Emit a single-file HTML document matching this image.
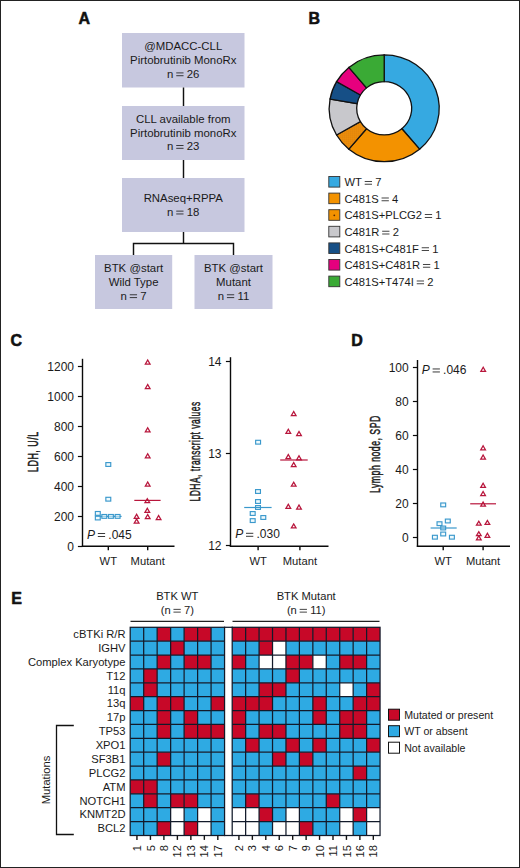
<!DOCTYPE html>
<html><head><meta charset="utf-8"><title>Figure</title>
<style>
html,body{margin:0;padding:0;background:#fff;overflow:hidden;width:520px;height:868px;}
svg{display:block;font-family:"Liberation Sans", sans-serif;}
</style></head><body>
<svg width="520" height="868" viewBox="0 0 520 868">
<rect x="0.5" y="0.5" width="519" height="867" fill="none" stroke="#222" stroke-width="1"/>
<text x="78.5" y="24.0" font-size="16" font-weight="bold" fill="#111" stroke="#111" stroke-width="0.55" stroke-linejoin="round">A</text>
<text x="308.4" y="24.4" font-size="16" font-weight="bold" fill="#111" stroke="#111" stroke-width="0.55" stroke-linejoin="round">B</text>
<text x="10.6" y="346.2" font-size="16" font-weight="bold" fill="#111" stroke="#111" stroke-width="0.55" stroke-linejoin="round">C</text>
<text x="351.3" y="346.4" font-size="16" font-weight="bold" fill="#111" stroke="#111" stroke-width="0.55" stroke-linejoin="round">D</text>
<text x="11.2" y="603.5" font-size="16" font-weight="bold" fill="#111" stroke="#111" stroke-width="0.55" stroke-linejoin="round">E</text>
<rect x="122" y="33" width="122.5" height="54.5" fill="#c7c8df"/>
<text x="183.25" y="50.3" font-size="11.4" text-anchor="middle" fill="#1a1a1a">@MDACC-CLL</text>
<text x="183.25" y="64" font-size="11.4" text-anchor="middle" fill="#1a1a1a">Pirtobrutinib MonoRx</text>
<text x="167.09" y="77.70" font-size="11.4" fill="#1a1a1a">n</text>
<rect x="176.23" y="72.50" width="7.3" height="0.82" fill="#1a1a1a"/>
<rect x="176.23" y="75.35" width="7.3" height="0.82" fill="#1a1a1a"/>
<text x="186.73" y="77.70" font-size="11.4" fill="#1a1a1a">26</text>
<rect x="122" y="106" width="122.5" height="54" fill="#c7c8df"/>
<text x="183.25" y="122.8" font-size="11.4" text-anchor="middle" fill="#1a1a1a">CLL available from</text>
<text x="183.25" y="136.5" font-size="11.4" text-anchor="middle" fill="#1a1a1a">Pirtobrutinib monoRx</text>
<text x="167.09" y="150.20" font-size="11.4" fill="#1a1a1a">n</text>
<rect x="176.23" y="145.00" width="7.3" height="0.82" fill="#1a1a1a"/>
<rect x="176.23" y="147.85" width="7.3" height="0.82" fill="#1a1a1a"/>
<text x="186.73" y="150.20" font-size="11.4" fill="#1a1a1a">23</text>
<rect x="122" y="178" width="122.5" height="54" fill="#c7c8df"/>
<text x="183.25" y="201.7" font-size="11.4" text-anchor="middle" fill="#1a1a1a">RNAseq+RPPA</text>
<text x="167.09" y="215.90" font-size="11.4" fill="#1a1a1a">n</text>
<rect x="176.23" y="210.70" width="7.3" height="0.82" fill="#1a1a1a"/>
<rect x="176.23" y="213.55" width="7.3" height="0.82" fill="#1a1a1a"/>
<text x="186.73" y="215.90" font-size="11.4" fill="#1a1a1a">18</text>
<rect x="95" y="255" width="77.19999999999999" height="54" fill="#c7c8df"/>
<text x="133.6" y="271.6" font-size="11.4" text-anchor="middle" fill="#1a1a1a">BTK @start</text>
<text x="133.6" y="285.6" font-size="11.4" text-anchor="middle" fill="#1a1a1a">Wild Type</text>
<text x="120.61" y="299.60" font-size="11.4" fill="#1a1a1a">n</text>
<rect x="129.75" y="294.40" width="7.3" height="0.82" fill="#1a1a1a"/>
<rect x="129.75" y="297.25" width="7.3" height="0.82" fill="#1a1a1a"/>
<text x="140.25" y="299.60" font-size="11.4" fill="#1a1a1a">7</text>
<rect x="194.5" y="255" width="78.0" height="54" fill="#c7c8df"/>
<text x="233.5" y="271.6" font-size="11.4" text-anchor="middle" fill="#1a1a1a">BTK @start</text>
<text x="233.5" y="285.6" font-size="11.4" text-anchor="middle" fill="#1a1a1a">Mutant</text>
<text x="217.76" y="299.60" font-size="11.4" fill="#1a1a1a">n</text>
<rect x="226.90" y="294.40" width="7.3" height="0.82" fill="#1a1a1a"/>
<rect x="226.90" y="297.25" width="7.3" height="0.82" fill="#1a1a1a"/>
<text x="237.40" y="299.60" font-size="11.4" fill="#1a1a1a">11</text>
<g stroke="#111" stroke-width="1.45" fill="none">
<line x1="183.5" y1="87.5" x2="183.5" y2="106"/>
<line x1="183.5" y1="160" x2="183.5" y2="178"/>
<line x1="183.5" y1="232" x2="183.5" y2="243.4"/>
<path d="M133.5 255 V243.4 H233.5 V255"/>
</g>
<defs><pattern id="dots" width="2" height="2" patternUnits="userSpaceOnUse"><rect width="2" height="2" fill="#f0900a"/><rect x="0.5" y="0.5" width="0.8" height="0.8" fill="#b86a10"/></pattern></defs>
<path transform="translate(0,3.249) scale(1,0.97)" d="M384.20 53.30 A55 55 0 0 1 419.55 150.43 L401.88 129.37 A27.5 27.5 0 0 0 384.20 80.80 Z" fill="#36a9e1" stroke="#111" stroke-width="1.3"/>
<path transform="translate(0,3.249) scale(1,0.97)" d="M419.55 150.43 A55 55 0 0 1 348.85 150.43 L366.52 129.37 A27.5 27.5 0 0 0 401.88 129.37 Z" fill="#f39200" stroke="#111" stroke-width="1.3"/>
<path transform="translate(0,3.249) scale(1,0.97)" d="M348.85 150.43 A55 55 0 0 1 336.57 135.80 L360.38 122.05 A27.5 27.5 0 0 0 366.52 129.37 Z" fill="url(#dots)" stroke="#111" stroke-width="1.3"/>
<path transform="translate(0,3.249) scale(1,0.97)" d="M336.57 135.80 A55 55 0 0 1 330.04 98.75 L357.12 103.52 A27.5 27.5 0 0 0 360.38 122.05 Z" fill="#c8c8cc" stroke="#111" stroke-width="1.3"/>
<path transform="translate(0,3.249) scale(1,0.97)" d="M330.04 98.75 A55 55 0 0 1 336.57 80.80 L360.38 94.55 A27.5 27.5 0 0 0 357.12 103.52 Z" fill="#164f86" stroke="#111" stroke-width="1.3"/>
<path transform="translate(0,3.249) scale(1,0.97)" d="M336.57 80.80 A55 55 0 0 1 348.85 66.17 L366.52 87.23 A27.5 27.5 0 0 0 360.38 94.55 Z" fill="#e6007e" stroke="#111" stroke-width="1.3"/>
<path transform="translate(0,3.249) scale(1,0.97)" d="M348.85 66.17 A55 55 0 0 1 384.20 53.30 L384.20 80.80 A27.5 27.5 0 0 0 366.52 87.23 Z" fill="#3aaa35" stroke="#111" stroke-width="1.3"/>
<rect x="328.8" y="176.50" width="11" height="10.6" fill="#36a9e1" stroke="#333" stroke-width="0.9"/>
<text x="344.50" y="186.10" font-size="11.2" fill="#1a1a1a">WT</text>
<rect x="364.71" y="180.99" width="7.3" height="0.81" fill="#1a1a1a"/>
<rect x="364.71" y="183.79" width="7.3" height="0.81" fill="#1a1a1a"/>
<text x="375.21" y="186.10" font-size="11.2" fill="#1a1a1a">7</text>
<rect x="328.8" y="193.10" width="11" height="10.6" fill="#f39200" stroke="#333" stroke-width="0.9"/>
<text x="344.50" y="202.70" font-size="11.2" fill="#1a1a1a">C481S</text>
<rect x="381.55" y="197.59" width="7.3" height="0.81" fill="#1a1a1a"/>
<rect x="381.55" y="200.39" width="7.3" height="0.81" fill="#1a1a1a"/>
<text x="392.05" y="202.70" font-size="11.2" fill="#1a1a1a">4</text>
<rect x="328.8" y="209.70" width="11" height="10.6" fill="#f39200" stroke="#333" stroke-width="0.9"/>
<circle cx="334.3" cy="215.30" r="0.9" fill="#5a2a00"/>
<text x="344.50" y="219.30" font-size="11.2" fill="#1a1a1a">C481S+PLCG2</text>
<rect x="424.81" y="214.19" width="7.3" height="0.81" fill="#1a1a1a"/>
<rect x="424.81" y="216.99" width="7.3" height="0.81" fill="#1a1a1a"/>
<text x="435.31" y="219.30" font-size="11.2" fill="#1a1a1a">1</text>
<rect x="328.8" y="226.30" width="11" height="10.6" fill="#c8c8cc" stroke="#333" stroke-width="0.9"/>
<text x="344.50" y="235.90" font-size="11.2" fill="#1a1a1a">C481R</text>
<rect x="382.16" y="230.79" width="7.3" height="0.81" fill="#1a1a1a"/>
<rect x="382.16" y="233.59" width="7.3" height="0.81" fill="#1a1a1a"/>
<text x="392.66" y="235.90" font-size="11.2" fill="#1a1a1a">2</text>
<rect x="328.8" y="242.90" width="11" height="10.6" fill="#164f86" stroke="#333" stroke-width="0.9"/>
<text x="344.50" y="252.50" font-size="11.2" fill="#1a1a1a">C481S+C481F</text>
<rect x="421.70" y="247.39" width="7.3" height="0.81" fill="#1a1a1a"/>
<rect x="421.70" y="250.19" width="7.3" height="0.81" fill="#1a1a1a"/>
<text x="432.20" y="252.50" font-size="11.2" fill="#1a1a1a">1</text>
<rect x="328.8" y="259.50" width="11" height="10.6" fill="#e6007e" stroke="#333" stroke-width="0.9"/>
<text x="344.50" y="269.10" font-size="11.2" fill="#1a1a1a">C481S+C481R</text>
<rect x="422.95" y="263.99" width="7.3" height="0.81" fill="#1a1a1a"/>
<rect x="422.95" y="266.79" width="7.3" height="0.81" fill="#1a1a1a"/>
<text x="433.45" y="269.10" font-size="11.2" fill="#1a1a1a">1</text>
<rect x="328.8" y="276.10" width="11" height="10.6" fill="#3aaa35" stroke="#333" stroke-width="0.9"/>
<text x="344.50" y="285.70" font-size="11.2" fill="#1a1a1a">C481S+T474I</text>
<rect x="416.73" y="280.59" width="7.3" height="0.81" fill="#1a1a1a"/>
<rect x="416.73" y="283.39" width="7.3" height="0.81" fill="#1a1a1a"/>
<text x="427.23" y="285.70" font-size="11.2" fill="#1a1a1a">2</text>
<g stroke="#0a0a0a" stroke-width="1.4" fill="none">
<line x1="82.5" y1="358.8" x2="82.5" y2="546.9000000000001"/>
<line x1="81.8" y1="546.2" x2="174.5" y2="546.2"/>
<line x1="77.9" y1="546.5" x2="82.5" y2="546.5" stroke-width="1.2"/>
<line x1="77.9" y1="516.5" x2="82.5" y2="516.5" stroke-width="1.2"/>
<line x1="77.9" y1="486.5" x2="82.5" y2="486.5" stroke-width="1.2"/>
<line x1="77.9" y1="456.5" x2="82.5" y2="456.5" stroke-width="1.2"/>
<line x1="77.9" y1="426.5" x2="82.5" y2="426.5" stroke-width="1.2"/>
<line x1="77.9" y1="396.5" x2="82.5" y2="396.5" stroke-width="1.2"/>
<line x1="77.9" y1="366.5" x2="82.5" y2="366.5" stroke-width="1.2"/>
<line x1="108.3" y1="546.2" x2="108.3" y2="550.2"/>
<line x1="147.7" y1="546.2" x2="147.7" y2="550.2"/>
</g>
<text x="74" y="550.80" font-size="12" text-anchor="end" fill="#1a1a1a">0</text>
<text x="74" y="520.80" font-size="12" text-anchor="end" fill="#1a1a1a">200</text>
<text x="74" y="490.80" font-size="12" text-anchor="end" fill="#1a1a1a">400</text>
<text x="74" y="460.80" font-size="12" text-anchor="end" fill="#1a1a1a">600</text>
<text x="74" y="430.80" font-size="12" text-anchor="end" fill="#1a1a1a">800</text>
<text x="74" y="400.80" font-size="12" text-anchor="end" fill="#1a1a1a">1000</text>
<text x="74" y="370.80" font-size="12" text-anchor="end" fill="#1a1a1a">1200</text>
<text x="108.3" y="564.6" font-size="11.2" text-anchor="middle" fill="#1a1a1a">WT</text>
<text x="147.7" y="564.6" font-size="11.2" text-anchor="middle" fill="#1a1a1a">Mutant</text>
<text x="87.00" y="538.50" font-size="12.0" font-style="italic" fill="#1a1a1a">P</text>
<rect x="97.80" y="533.03" width="7.3" height="0.86" fill="#1a1a1a"/>
<rect x="97.80" y="536.03" width="7.3" height="0.86" fill="#1a1a1a"/>
<text x="108.30" y="538.50" font-size="12.0" fill="#1a1a1a">.045</text>
<text transform="translate(38.4,451.9) rotate(-90) scale(0.6332,1)" font-size="14" font-weight="normal" letter-spacing="0.8" fill="#1a1a1a" stroke="#1a1a1a" stroke-width="0.5" x="-31.59">LDH, U/L</text>
<line x1="95" y1="516.4" x2="121.6" y2="516.4" stroke="#3a98cc" stroke-width="1.2"/>
<rect x="105.85" y="462.60" width="4.9" height="3.8" fill="#e4f6fc" fill-opacity="0.6" stroke="#3a98cc" stroke-width="1.15"/>
<rect x="105.85" y="497.30" width="4.9" height="3.8" fill="#e4f6fc" fill-opacity="0.6" stroke="#3a98cc" stroke-width="1.15"/>
<rect x="95.35" y="511.50" width="4.9" height="3.8" fill="#e4f6fc" fill-opacity="0.6" stroke="#3a98cc" stroke-width="1.15"/>
<rect x="95.35" y="516.10" width="4.9" height="3.8" fill="#e4f6fc" fill-opacity="0.6" stroke="#3a98cc" stroke-width="1.15"/>
<rect x="101.85" y="514.50" width="4.9" height="3.8" fill="#e4f6fc" fill-opacity="0.6" stroke="#3a98cc" stroke-width="1.15"/>
<rect x="108.45" y="514.50" width="4.9" height="3.8" fill="#e4f6fc" fill-opacity="0.6" stroke="#3a98cc" stroke-width="1.15"/>
<rect x="115.15" y="514.50" width="4.9" height="3.8" fill="#e4f6fc" fill-opacity="0.6" stroke="#3a98cc" stroke-width="1.15"/>
<line x1="134.3" y1="500.4" x2="160.6" y2="500.4" stroke="#b8163c" stroke-width="1.2"/>
<path d="M147.70 358.85 L151.15 364.75 L144.25 364.75 Z M147.70 361.33 L146.43 363.50 L148.97 363.50 Z" fill="#b8163c" fill-rule="evenodd"/>
<path d="M147.70 383.35 L151.15 389.25 L144.25 389.25 Z M147.70 385.83 L146.43 388.00 L148.97 388.00 Z" fill="#b8163c" fill-rule="evenodd"/>
<path d="M147.70 426.55 L151.15 432.45 L144.25 432.45 Z M147.70 429.03 L146.43 431.20 L148.97 431.20 Z" fill="#b8163c" fill-rule="evenodd"/>
<path d="M147.70 452.55 L151.15 458.45 L144.25 458.45 Z M147.70 455.03 L146.43 457.20 L148.97 457.20 Z" fill="#b8163c" fill-rule="evenodd"/>
<path d="M147.70 480.75 L151.15 486.65 L144.25 486.65 Z M147.70 483.23 L146.43 485.40 L148.97 485.40 Z" fill="#b8163c" fill-rule="evenodd"/>
<path d="M147.30 497.45 L150.75 503.35 L143.85 503.35 Z M147.30 499.93 L146.03 502.10 L148.57 502.10 Z" fill="#b8163c" fill-rule="evenodd"/>
<path d="M147.30 507.05 L150.75 512.95 L143.85 512.95 Z M147.30 509.53 L146.03 511.70 L148.57 511.70 Z" fill="#b8163c" fill-rule="evenodd"/>
<path d="M136.60 513.05 L140.05 518.95 L133.15 518.95 Z M136.60 515.53 L135.33 517.70 L137.87 517.70 Z" fill="#b8163c" fill-rule="evenodd"/>
<path d="M136.60 517.85 L140.05 523.75 L133.15 523.75 Z M136.60 520.33 L135.33 522.50 L137.87 522.50 Z" fill="#b8163c" fill-rule="evenodd"/>
<path d="M147.70 513.35 L151.15 519.25 L144.25 519.25 Z M147.70 515.83 L146.43 518.00 L148.97 518.00 Z" fill="#b8163c" fill-rule="evenodd"/>
<path d="M158.60 514.25 L162.05 520.15 L155.15 520.15 Z M158.60 516.73 L157.33 518.90 L159.87 518.90 Z" fill="#b8163c" fill-rule="evenodd"/>
<g stroke="#0a0a0a" stroke-width="1.4" fill="none">
<line x1="230.5" y1="357.2" x2="230.5" y2="546.9000000000001"/>
<line x1="229.8" y1="546.2" x2="328.5" y2="546.2"/>
<line x1="225.9" y1="361.5" x2="230.5" y2="361.5" stroke-width="1.2"/>
<line x1="225.9" y1="453.5" x2="230.5" y2="453.5" stroke-width="1.2"/>
<line x1="225.9" y1="545.5" x2="230.5" y2="545.5" stroke-width="1.2"/>
<line x1="258.1" y1="546.2" x2="258.1" y2="550.2"/>
<line x1="299.9" y1="546.2" x2="299.9" y2="550.2"/>
</g>
<text x="221.5" y="365.80" font-size="12" text-anchor="end" fill="#1a1a1a">14</text>
<text x="221.5" y="457.80" font-size="12" text-anchor="end" fill="#1a1a1a">13</text>
<text x="221.5" y="549.80" font-size="12" text-anchor="end" fill="#1a1a1a">12</text>
<text x="258.1" y="565.2" font-size="11.2" text-anchor="middle" fill="#1a1a1a">WT</text>
<text x="299.9" y="565.2" font-size="11.2" text-anchor="middle" fill="#1a1a1a">Mutant</text>
<text x="235.20" y="538.30" font-size="12.0" font-style="italic" fill="#1a1a1a">P</text>
<rect x="246.00" y="532.83" width="7.3" height="0.86" fill="#1a1a1a"/>
<rect x="246.00" y="535.83" width="7.3" height="0.86" fill="#1a1a1a"/>
<text x="256.50" y="538.30" font-size="12.0" fill="#1a1a1a">.030</text>
<text transform="translate(199.9,451.6) rotate(-90) scale(0.6055,1)" font-size="14" font-weight="normal" letter-spacing="0.8" fill="#1a1a1a" stroke="#1a1a1a" stroke-width="0.5" x="-82.33">LDHA, transcript values</text>
<rect x="255.65" y="440.30" width="4.9" height="3.8" fill="#e4f6fc" fill-opacity="0.6" stroke="#3a98cc" stroke-width="1.15"/>
<rect x="255.55" y="489.60" width="4.9" height="3.8" fill="#e4f6fc" fill-opacity="0.6" stroke="#3a98cc" stroke-width="1.15"/>
<rect x="255.55" y="499.60" width="4.9" height="3.8" fill="#e4f6fc" fill-opacity="0.6" stroke="#3a98cc" stroke-width="1.15"/>
<rect x="255.55" y="505.60" width="4.9" height="3.8" fill="#e4f6fc" fill-opacity="0.6" stroke="#3a98cc" stroke-width="1.15"/>
<rect x="250.25" y="511.60" width="4.9" height="3.8" fill="#e4f6fc" fill-opacity="0.6" stroke="#3a98cc" stroke-width="1.15"/>
<rect x="260.85" y="515.60" width="4.9" height="3.8" fill="#e4f6fc" fill-opacity="0.6" stroke="#3a98cc" stroke-width="1.15"/>
<rect x="250.25" y="518.70" width="4.9" height="3.8" fill="#e4f6fc" fill-opacity="0.6" stroke="#3a98cc" stroke-width="1.15"/>
<line x1="244.2" y1="507.5" x2="271.6" y2="507.5" stroke="#3a98cc" stroke-width="1.2"/>
<path d="M293.70 410.25 L297.15 416.15 L290.25 416.15 Z M293.70 412.73 L292.43 414.90 L294.97 414.90 Z" fill="#b8163c" fill-rule="evenodd"/>
<path d="M288.30 428.05 L291.75 433.95 L284.85 433.95 Z M288.30 430.53 L287.03 432.70 L289.57 432.70 Z" fill="#b8163c" fill-rule="evenodd"/>
<path d="M299.00 430.25 L302.45 436.15 L295.55 436.15 Z M299.00 432.73 L297.73 434.90 L300.27 434.90 Z" fill="#b8163c" fill-rule="evenodd"/>
<path d="M288.30 453.25 L291.75 459.15 L284.85 459.15 Z M288.30 455.73 L287.03 457.90 L289.57 457.90 Z" fill="#b8163c" fill-rule="evenodd"/>
<path d="M299.00 454.55 L302.45 460.45 L295.55 460.45 Z M299.00 457.03 L297.73 459.20 L300.27 459.20 Z" fill="#b8163c" fill-rule="evenodd"/>
<path d="M293.70 461.25 L297.15 467.15 L290.25 467.15 Z M293.70 463.73 L292.43 465.90 L294.97 465.90 Z" fill="#b8163c" fill-rule="evenodd"/>
<path d="M293.70 480.95 L297.15 486.85 L290.25 486.85 Z M293.70 483.43 L292.43 485.60 L294.97 485.60 Z" fill="#b8163c" fill-rule="evenodd"/>
<path d="M288.30 503.05 L291.75 508.95 L284.85 508.95 Z M288.30 505.53 L287.03 507.70 L289.57 507.70 Z" fill="#b8163c" fill-rule="evenodd"/>
<path d="M299.00 503.85 L302.45 509.75 L295.55 509.75 Z M299.00 506.33 L297.73 508.50 L300.27 508.50 Z" fill="#b8163c" fill-rule="evenodd"/>
<path d="M293.70 522.65 L297.15 528.55 L290.25 528.55 Z M293.70 525.13 L292.43 527.30 L294.97 527.30 Z" fill="#b8163c" fill-rule="evenodd"/>
<line x1="280.2" y1="460" x2="307.7" y2="460" stroke="#b8163c" stroke-width="1.2"/>
<g stroke="#0a0a0a" stroke-width="1.4" fill="none">
<line x1="417.5" y1="360" x2="417.5" y2="546.9000000000001"/>
<line x1="416.8" y1="546.2" x2="510" y2="546.2"/>
<line x1="412.9" y1="537.5" x2="417.5" y2="537.5" stroke-width="1.2"/>
<line x1="412.9" y1="503.5" x2="417.5" y2="503.5" stroke-width="1.2"/>
<line x1="412.9" y1="469.5" x2="417.5" y2="469.5" stroke-width="1.2"/>
<line x1="412.9" y1="435.5" x2="417.5" y2="435.5" stroke-width="1.2"/>
<line x1="412.9" y1="401.5" x2="417.5" y2="401.5" stroke-width="1.2"/>
<line x1="412.9" y1="367.5" x2="417.5" y2="367.5" stroke-width="1.2"/>
<line x1="443.2" y1="546.2" x2="443.2" y2="550.2"/>
<line x1="483.1" y1="546.2" x2="483.1" y2="550.2"/>
</g>
<text x="408.7" y="541.80" font-size="12" text-anchor="end" fill="#1a1a1a">0</text>
<text x="408.7" y="507.80" font-size="12" text-anchor="end" fill="#1a1a1a">20</text>
<text x="408.7" y="473.80" font-size="12" text-anchor="end" fill="#1a1a1a">40</text>
<text x="408.7" y="439.80" font-size="12" text-anchor="end" fill="#1a1a1a">60</text>
<text x="408.7" y="405.80" font-size="12" text-anchor="end" fill="#1a1a1a">80</text>
<text x="408.7" y="371.80" font-size="12" text-anchor="end" fill="#1a1a1a">100</text>
<text x="443.2" y="565.3" font-size="11.2" text-anchor="middle" fill="#1a1a1a">WT</text>
<text x="483.1" y="565.3" font-size="11.2" text-anchor="middle" fill="#1a1a1a">Mutant</text>
<text x="421.80" y="374.00" font-size="12.0" font-style="italic" fill="#1a1a1a">P</text>
<rect x="432.60" y="368.53" width="7.3" height="0.86" fill="#1a1a1a"/>
<rect x="432.60" y="371.53" width="7.3" height="0.86" fill="#1a1a1a"/>
<text x="443.10" y="374.00" font-size="12.0" fill="#1a1a1a">.046</text>
<text transform="translate(379.5,454.4) rotate(-90) scale(0.6227,1)" font-size="14" font-weight="normal" letter-spacing="0.8" fill="#1a1a1a" stroke="#1a1a1a" stroke-width="0.5" x="-62.15">Lymph node, SPD</text>
<rect x="440.75" y="503.00" width="4.9" height="3.8" fill="#e4f6fc" fill-opacity="0.6" stroke="#3a98cc" stroke-width="1.15"/>
<rect x="437.05" y="521.80" width="4.9" height="3.8" fill="#e4f6fc" fill-opacity="0.6" stroke="#3a98cc" stroke-width="1.15"/>
<rect x="445.35" y="519.10" width="4.9" height="3.8" fill="#e4f6fc" fill-opacity="0.6" stroke="#3a98cc" stroke-width="1.15"/>
<rect x="440.75" y="526.10" width="4.9" height="3.8" fill="#e4f6fc" fill-opacity="0.6" stroke="#3a98cc" stroke-width="1.15"/>
<rect x="440.75" y="532.10" width="4.9" height="3.8" fill="#e4f6fc" fill-opacity="0.6" stroke="#3a98cc" stroke-width="1.15"/>
<rect x="432.45" y="535.30" width="4.9" height="3.8" fill="#e4f6fc" fill-opacity="0.6" stroke="#3a98cc" stroke-width="1.15"/>
<rect x="449.45" y="535.30" width="4.9" height="3.8" fill="#e4f6fc" fill-opacity="0.6" stroke="#3a98cc" stroke-width="1.15"/>
<line x1="430.6" y1="528" x2="456.7" y2="528" stroke="#3a98cc" stroke-width="1.2"/>
<path d="M483.20 366.05 L486.65 371.95 L479.75 371.95 Z M483.20 368.53 L481.93 370.70 L484.47 370.70 Z" fill="#b8163c" fill-rule="evenodd"/>
<path d="M483.10 444.55 L486.55 450.45 L479.65 450.45 Z M483.10 447.03 L481.83 449.20 L484.37 449.20 Z" fill="#b8163c" fill-rule="evenodd"/>
<path d="M483.10 453.75 L486.55 459.65 L479.65 459.65 Z M483.10 456.23 L481.83 458.40 L484.37 458.40 Z" fill="#b8163c" fill-rule="evenodd"/>
<path d="M483.10 482.05 L486.55 487.95 L479.65 487.95 Z M483.10 484.53 L481.83 486.70 L484.37 486.70 Z" fill="#b8163c" fill-rule="evenodd"/>
<path d="M483.10 490.35 L486.55 496.25 L479.65 496.25 Z M483.10 492.83 L481.83 495.00 L484.37 495.00 Z" fill="#b8163c" fill-rule="evenodd"/>
<path d="M483.10 500.85 L486.55 506.75 L479.65 506.75 Z M483.10 503.33 L481.83 505.50 L484.37 505.50 Z" fill="#b8163c" fill-rule="evenodd"/>
<path d="M478.80 519.95 L482.25 525.85 L475.35 525.85 Z M478.80 522.43 L477.53 524.60 L480.07 524.60 Z" fill="#b8163c" fill-rule="evenodd"/>
<path d="M487.40 519.15 L490.85 525.05 L483.95 525.05 Z M487.40 521.63 L486.13 523.80 L488.67 523.80 Z" fill="#b8163c" fill-rule="evenodd"/>
<path d="M478.80 530.45 L482.25 536.35 L475.35 536.35 Z M478.80 532.93 L477.53 535.10 L480.07 535.10 Z" fill="#b8163c" fill-rule="evenodd"/>
<path d="M487.40 532.05 L490.85 537.95 L483.95 537.95 Z M487.40 534.53 L486.13 536.70 L488.67 536.70 Z" fill="#b8163c" fill-rule="evenodd"/>
<path d="M478.80 534.55 L482.25 540.45 L475.35 540.45 Z M478.80 537.03 L477.53 539.20 L480.07 539.20 Z" fill="#b8163c" fill-rule="evenodd"/>
<line x1="470.2" y1="503.8" x2="496" y2="503.8" stroke="#b8163c" stroke-width="1.2"/>
<rect x="130.20" y="627.30" width="13.53" height="13.93" fill="#2eaae3"/>
<rect x="143.68" y="627.30" width="13.53" height="13.93" fill="#2eaae3"/>
<rect x="157.16" y="627.30" width="13.53" height="13.93" fill="#c70828"/>
<rect x="170.64" y="627.30" width="13.53" height="13.93" fill="#2eaae3"/>
<rect x="184.12" y="627.30" width="13.53" height="13.93" fill="#c70828"/>
<rect x="197.60" y="627.30" width="13.53" height="13.93" fill="#c70828"/>
<rect x="211.08" y="627.30" width="13.53" height="13.93" fill="#2eaae3"/>
<rect x="130.20" y="641.18" width="13.53" height="13.93" fill="#2eaae3"/>
<rect x="143.68" y="641.18" width="13.53" height="13.93" fill="#2eaae3"/>
<rect x="157.16" y="641.18" width="13.53" height="13.93" fill="#2eaae3"/>
<rect x="170.64" y="641.18" width="13.53" height="13.93" fill="#c70828"/>
<rect x="184.12" y="641.18" width="13.53" height="13.93" fill="#2eaae3"/>
<rect x="197.60" y="641.18" width="13.53" height="13.93" fill="#2eaae3"/>
<rect x="211.08" y="641.18" width="13.53" height="13.93" fill="#2eaae3"/>
<rect x="130.20" y="655.06" width="13.53" height="13.93" fill="#2eaae3"/>
<rect x="143.68" y="655.06" width="13.53" height="13.93" fill="#2eaae3"/>
<rect x="157.16" y="655.06" width="13.53" height="13.93" fill="#c70828"/>
<rect x="170.64" y="655.06" width="13.53" height="13.93" fill="#2eaae3"/>
<rect x="184.12" y="655.06" width="13.53" height="13.93" fill="#c70828"/>
<rect x="197.60" y="655.06" width="13.53" height="13.93" fill="#c70828"/>
<rect x="211.08" y="655.06" width="13.53" height="13.93" fill="#2eaae3"/>
<rect x="130.20" y="668.94" width="13.53" height="13.93" fill="#2eaae3"/>
<rect x="143.68" y="668.94" width="13.53" height="13.93" fill="#c70828"/>
<rect x="157.16" y="668.94" width="13.53" height="13.93" fill="#2eaae3"/>
<rect x="170.64" y="668.94" width="13.53" height="13.93" fill="#2eaae3"/>
<rect x="184.12" y="668.94" width="13.53" height="13.93" fill="#2eaae3"/>
<rect x="197.60" y="668.94" width="13.53" height="13.93" fill="#2eaae3"/>
<rect x="211.08" y="668.94" width="13.53" height="13.93" fill="#2eaae3"/>
<rect x="130.20" y="682.82" width="13.53" height="13.93" fill="#2eaae3"/>
<rect x="143.68" y="682.82" width="13.53" height="13.93" fill="#c70828"/>
<rect x="157.16" y="682.82" width="13.53" height="13.93" fill="#2eaae3"/>
<rect x="170.64" y="682.82" width="13.53" height="13.93" fill="#2eaae3"/>
<rect x="184.12" y="682.82" width="13.53" height="13.93" fill="#2eaae3"/>
<rect x="197.60" y="682.82" width="13.53" height="13.93" fill="#2eaae3"/>
<rect x="211.08" y="682.82" width="13.53" height="13.93" fill="#2eaae3"/>
<rect x="130.20" y="696.70" width="13.53" height="13.93" fill="#c70828"/>
<rect x="143.68" y="696.70" width="13.53" height="13.93" fill="#2eaae3"/>
<rect x="157.16" y="696.70" width="13.53" height="13.93" fill="#c70828"/>
<rect x="170.64" y="696.70" width="13.53" height="13.93" fill="#c70828"/>
<rect x="184.12" y="696.70" width="13.53" height="13.93" fill="#2eaae3"/>
<rect x="197.60" y="696.70" width="13.53" height="13.93" fill="#2eaae3"/>
<rect x="211.08" y="696.70" width="13.53" height="13.93" fill="#c70828"/>
<rect x="130.20" y="710.58" width="13.53" height="13.93" fill="#2eaae3"/>
<rect x="143.68" y="710.58" width="13.53" height="13.93" fill="#2eaae3"/>
<rect x="157.16" y="710.58" width="13.53" height="13.93" fill="#c70828"/>
<rect x="170.64" y="710.58" width="13.53" height="13.93" fill="#2eaae3"/>
<rect x="184.12" y="710.58" width="13.53" height="13.93" fill="#c70828"/>
<rect x="197.60" y="710.58" width="13.53" height="13.93" fill="#2eaae3"/>
<rect x="211.08" y="710.58" width="13.53" height="13.93" fill="#2eaae3"/>
<rect x="130.20" y="724.46" width="13.53" height="13.93" fill="#2eaae3"/>
<rect x="143.68" y="724.46" width="13.53" height="13.93" fill="#2eaae3"/>
<rect x="157.16" y="724.46" width="13.53" height="13.93" fill="#c70828"/>
<rect x="170.64" y="724.46" width="13.53" height="13.93" fill="#2eaae3"/>
<rect x="184.12" y="724.46" width="13.53" height="13.93" fill="#c70828"/>
<rect x="197.60" y="724.46" width="13.53" height="13.93" fill="#c70828"/>
<rect x="211.08" y="724.46" width="13.53" height="13.93" fill="#c70828"/>
<rect x="130.20" y="738.34" width="13.53" height="13.93" fill="#2eaae3"/>
<rect x="143.68" y="738.34" width="13.53" height="13.93" fill="#2eaae3"/>
<rect x="157.16" y="738.34" width="13.53" height="13.93" fill="#2eaae3"/>
<rect x="170.64" y="738.34" width="13.53" height="13.93" fill="#2eaae3"/>
<rect x="184.12" y="738.34" width="13.53" height="13.93" fill="#2eaae3"/>
<rect x="197.60" y="738.34" width="13.53" height="13.93" fill="#2eaae3"/>
<rect x="211.08" y="738.34" width="13.53" height="13.93" fill="#2eaae3"/>
<rect x="130.20" y="752.22" width="13.53" height="13.93" fill="#2eaae3"/>
<rect x="143.68" y="752.22" width="13.53" height="13.93" fill="#2eaae3"/>
<rect x="157.16" y="752.22" width="13.53" height="13.93" fill="#c70828"/>
<rect x="170.64" y="752.22" width="13.53" height="13.93" fill="#2eaae3"/>
<rect x="184.12" y="752.22" width="13.53" height="13.93" fill="#2eaae3"/>
<rect x="197.60" y="752.22" width="13.53" height="13.93" fill="#2eaae3"/>
<rect x="211.08" y="752.22" width="13.53" height="13.93" fill="#2eaae3"/>
<rect x="130.20" y="766.10" width="13.53" height="13.93" fill="#2eaae3"/>
<rect x="143.68" y="766.10" width="13.53" height="13.93" fill="#2eaae3"/>
<rect x="157.16" y="766.10" width="13.53" height="13.93" fill="#2eaae3"/>
<rect x="170.64" y="766.10" width="13.53" height="13.93" fill="#2eaae3"/>
<rect x="184.12" y="766.10" width="13.53" height="13.93" fill="#2eaae3"/>
<rect x="197.60" y="766.10" width="13.53" height="13.93" fill="#2eaae3"/>
<rect x="211.08" y="766.10" width="13.53" height="13.93" fill="#2eaae3"/>
<rect x="130.20" y="779.98" width="13.53" height="13.93" fill="#c70828"/>
<rect x="143.68" y="779.98" width="13.53" height="13.93" fill="#c70828"/>
<rect x="157.16" y="779.98" width="13.53" height="13.93" fill="#2eaae3"/>
<rect x="170.64" y="779.98" width="13.53" height="13.93" fill="#2eaae3"/>
<rect x="184.12" y="779.98" width="13.53" height="13.93" fill="#2eaae3"/>
<rect x="197.60" y="779.98" width="13.53" height="13.93" fill="#2eaae3"/>
<rect x="211.08" y="779.98" width="13.53" height="13.93" fill="#2eaae3"/>
<rect x="130.20" y="793.86" width="13.53" height="13.93" fill="#2eaae3"/>
<rect x="143.68" y="793.86" width="13.53" height="13.93" fill="#c70828"/>
<rect x="157.16" y="793.86" width="13.53" height="13.93" fill="#2eaae3"/>
<rect x="170.64" y="793.86" width="13.53" height="13.93" fill="#c70828"/>
<rect x="184.12" y="793.86" width="13.53" height="13.93" fill="#c70828"/>
<rect x="197.60" y="793.86" width="13.53" height="13.93" fill="#2eaae3"/>
<rect x="211.08" y="793.86" width="13.53" height="13.93" fill="#2eaae3"/>
<rect x="130.20" y="807.74" width="13.53" height="13.93" fill="#2eaae3"/>
<rect x="143.68" y="807.74" width="13.53" height="13.93" fill="#2eaae3"/>
<rect x="157.16" y="807.74" width="13.53" height="13.93" fill="#2eaae3"/>
<rect x="170.64" y="807.74" width="13.53" height="13.93" fill="#ffffff"/>
<rect x="184.12" y="807.74" width="13.53" height="13.93" fill="#2eaae3"/>
<rect x="197.60" y="807.74" width="13.53" height="13.93" fill="#ffffff"/>
<rect x="211.08" y="807.74" width="13.53" height="13.93" fill="#2eaae3"/>
<rect x="130.20" y="821.62" width="13.53" height="13.93" fill="#2eaae3"/>
<rect x="143.68" y="821.62" width="13.53" height="13.93" fill="#2eaae3"/>
<rect x="157.16" y="821.62" width="13.53" height="13.93" fill="#c70828"/>
<rect x="170.64" y="821.62" width="13.53" height="13.93" fill="#ffffff"/>
<rect x="184.12" y="821.62" width="13.53" height="13.93" fill="#c70828"/>
<rect x="197.60" y="821.62" width="13.53" height="13.93" fill="#ffffff"/>
<rect x="211.08" y="821.62" width="13.53" height="13.93" fill="#2eaae3"/>
<g stroke="#121a2a" stroke-width="1.25">
<line x1="143.68" y1="627.30" x2="143.68" y2="835.50"/>
<line x1="157.16" y1="627.30" x2="157.16" y2="835.50"/>
<line x1="170.64" y1="627.30" x2="170.64" y2="835.50"/>
<line x1="184.12" y1="627.30" x2="184.12" y2="835.50"/>
<line x1="197.60" y1="627.30" x2="197.60" y2="835.50"/>
<line x1="211.08" y1="627.30" x2="211.08" y2="835.50"/>
<line x1="130.20" y1="641.18" x2="224.56" y2="641.18"/>
<line x1="130.20" y1="655.06" x2="224.56" y2="655.06"/>
<line x1="130.20" y1="668.94" x2="224.56" y2="668.94"/>
<line x1="130.20" y1="682.82" x2="224.56" y2="682.82"/>
<line x1="130.20" y1="696.70" x2="224.56" y2="696.70"/>
<line x1="130.20" y1="710.58" x2="224.56" y2="710.58"/>
<line x1="130.20" y1="724.46" x2="224.56" y2="724.46"/>
<line x1="130.20" y1="738.34" x2="224.56" y2="738.34"/>
<line x1="130.20" y1="752.22" x2="224.56" y2="752.22"/>
<line x1="130.20" y1="766.10" x2="224.56" y2="766.10"/>
<line x1="130.20" y1="779.98" x2="224.56" y2="779.98"/>
<line x1="130.20" y1="793.86" x2="224.56" y2="793.86"/>
<line x1="130.20" y1="807.74" x2="224.56" y2="807.74"/>
<line x1="130.20" y1="821.62" x2="224.56" y2="821.62"/>
<rect x="130.20" y="627.30" width="94.36" height="208.20" fill="none"/>
</g>
<g stroke="#111" stroke-width="1.4">
<line x1="136.94" y1="835.50" x2="136.94" y2="839.90"/>
<line x1="150.42" y1="835.50" x2="150.42" y2="839.90"/>
<line x1="163.90" y1="835.50" x2="163.90" y2="839.90"/>
<line x1="177.38" y1="835.50" x2="177.38" y2="839.90"/>
<line x1="190.86" y1="835.50" x2="190.86" y2="839.90"/>
<line x1="204.34" y1="835.50" x2="204.34" y2="839.90"/>
<line x1="217.82" y1="835.50" x2="217.82" y2="839.90"/>
</g>
<text transform="translate(141.04,845.2) rotate(-90)" font-size="11" text-anchor="end" fill="#1a1a1a">1</text>
<text transform="translate(154.52,845.2) rotate(-90)" font-size="11" text-anchor="end" fill="#1a1a1a">5</text>
<text transform="translate(168.00,845.2) rotate(-90)" font-size="11" text-anchor="end" fill="#1a1a1a">8</text>
<text transform="translate(181.48,845.2) rotate(-90)" font-size="11" text-anchor="end" fill="#1a1a1a">12</text>
<text transform="translate(194.96,845.2) rotate(-90)" font-size="11" text-anchor="end" fill="#1a1a1a">13</text>
<text transform="translate(208.44,845.2) rotate(-90)" font-size="11" text-anchor="end" fill="#1a1a1a">14</text>
<text transform="translate(221.92,845.2) rotate(-90)" font-size="11" text-anchor="end" fill="#1a1a1a">17</text>
<rect x="232.20" y="627.30" width="13.49" height="13.93" fill="#c70828"/>
<rect x="245.64" y="627.30" width="13.49" height="13.93" fill="#c70828"/>
<rect x="259.08" y="627.30" width="13.49" height="13.93" fill="#c70828"/>
<rect x="272.52" y="627.30" width="13.49" height="13.93" fill="#c70828"/>
<rect x="285.96" y="627.30" width="13.49" height="13.93" fill="#c70828"/>
<rect x="299.40" y="627.30" width="13.49" height="13.93" fill="#c70828"/>
<rect x="312.84" y="627.30" width="13.49" height="13.93" fill="#c70828"/>
<rect x="326.28" y="627.30" width="13.49" height="13.93" fill="#c70828"/>
<rect x="339.72" y="627.30" width="13.49" height="13.93" fill="#c70828"/>
<rect x="353.16" y="627.30" width="13.49" height="13.93" fill="#c70828"/>
<rect x="366.60" y="627.30" width="13.49" height="13.93" fill="#c70828"/>
<rect x="232.20" y="641.18" width="13.49" height="13.93" fill="#2eaae3"/>
<rect x="245.64" y="641.18" width="13.49" height="13.93" fill="#2eaae3"/>
<rect x="259.08" y="641.18" width="13.49" height="13.93" fill="#c70828"/>
<rect x="272.52" y="641.18" width="13.49" height="13.93" fill="#ffffff"/>
<rect x="285.96" y="641.18" width="13.49" height="13.93" fill="#2eaae3"/>
<rect x="299.40" y="641.18" width="13.49" height="13.93" fill="#2eaae3"/>
<rect x="312.84" y="641.18" width="13.49" height="13.93" fill="#2eaae3"/>
<rect x="326.28" y="641.18" width="13.49" height="13.93" fill="#2eaae3"/>
<rect x="339.72" y="641.18" width="13.49" height="13.93" fill="#2eaae3"/>
<rect x="353.16" y="641.18" width="13.49" height="13.93" fill="#2eaae3"/>
<rect x="366.60" y="641.18" width="13.49" height="13.93" fill="#2eaae3"/>
<rect x="232.20" y="655.06" width="13.49" height="13.93" fill="#c70828"/>
<rect x="245.64" y="655.06" width="13.49" height="13.93" fill="#2eaae3"/>
<rect x="259.08" y="655.06" width="13.49" height="13.93" fill="#ffffff"/>
<rect x="272.52" y="655.06" width="13.49" height="13.93" fill="#ffffff"/>
<rect x="285.96" y="655.06" width="13.49" height="13.93" fill="#c70828"/>
<rect x="299.40" y="655.06" width="13.49" height="13.93" fill="#c70828"/>
<rect x="312.84" y="655.06" width="13.49" height="13.93" fill="#ffffff"/>
<rect x="326.28" y="655.06" width="13.49" height="13.93" fill="#2eaae3"/>
<rect x="339.72" y="655.06" width="13.49" height="13.93" fill="#c70828"/>
<rect x="353.16" y="655.06" width="13.49" height="13.93" fill="#c70828"/>
<rect x="366.60" y="655.06" width="13.49" height="13.93" fill="#2eaae3"/>
<rect x="232.20" y="668.94" width="13.49" height="13.93" fill="#2eaae3"/>
<rect x="245.64" y="668.94" width="13.49" height="13.93" fill="#2eaae3"/>
<rect x="259.08" y="668.94" width="13.49" height="13.93" fill="#2eaae3"/>
<rect x="272.52" y="668.94" width="13.49" height="13.93" fill="#2eaae3"/>
<rect x="285.96" y="668.94" width="13.49" height="13.93" fill="#c70828"/>
<rect x="299.40" y="668.94" width="13.49" height="13.93" fill="#2eaae3"/>
<rect x="312.84" y="668.94" width="13.49" height="13.93" fill="#2eaae3"/>
<rect x="326.28" y="668.94" width="13.49" height="13.93" fill="#2eaae3"/>
<rect x="339.72" y="668.94" width="13.49" height="13.93" fill="#2eaae3"/>
<rect x="353.16" y="668.94" width="13.49" height="13.93" fill="#2eaae3"/>
<rect x="366.60" y="668.94" width="13.49" height="13.93" fill="#2eaae3"/>
<rect x="232.20" y="682.82" width="13.49" height="13.93" fill="#2eaae3"/>
<rect x="245.64" y="682.82" width="13.49" height="13.93" fill="#2eaae3"/>
<rect x="259.08" y="682.82" width="13.49" height="13.93" fill="#c70828"/>
<rect x="272.52" y="682.82" width="13.49" height="13.93" fill="#c70828"/>
<rect x="285.96" y="682.82" width="13.49" height="13.93" fill="#2eaae3"/>
<rect x="299.40" y="682.82" width="13.49" height="13.93" fill="#2eaae3"/>
<rect x="312.84" y="682.82" width="13.49" height="13.93" fill="#2eaae3"/>
<rect x="326.28" y="682.82" width="13.49" height="13.93" fill="#2eaae3"/>
<rect x="339.72" y="682.82" width="13.49" height="13.93" fill="#ffffff"/>
<rect x="353.16" y="682.82" width="13.49" height="13.93" fill="#2eaae3"/>
<rect x="366.60" y="682.82" width="13.49" height="13.93" fill="#c70828"/>
<rect x="232.20" y="696.70" width="13.49" height="13.93" fill="#c70828"/>
<rect x="245.64" y="696.70" width="13.49" height="13.93" fill="#c70828"/>
<rect x="259.08" y="696.70" width="13.49" height="13.93" fill="#c70828"/>
<rect x="272.52" y="696.70" width="13.49" height="13.93" fill="#2eaae3"/>
<rect x="285.96" y="696.70" width="13.49" height="13.93" fill="#2eaae3"/>
<rect x="299.40" y="696.70" width="13.49" height="13.93" fill="#2eaae3"/>
<rect x="312.84" y="696.70" width="13.49" height="13.93" fill="#c70828"/>
<rect x="326.28" y="696.70" width="13.49" height="13.93" fill="#2eaae3"/>
<rect x="339.72" y="696.70" width="13.49" height="13.93" fill="#2eaae3"/>
<rect x="353.16" y="696.70" width="13.49" height="13.93" fill="#c70828"/>
<rect x="366.60" y="696.70" width="13.49" height="13.93" fill="#c70828"/>
<rect x="232.20" y="710.58" width="13.49" height="13.93" fill="#c70828"/>
<rect x="245.64" y="710.58" width="13.49" height="13.93" fill="#2eaae3"/>
<rect x="259.08" y="710.58" width="13.49" height="13.93" fill="#2eaae3"/>
<rect x="272.52" y="710.58" width="13.49" height="13.93" fill="#2eaae3"/>
<rect x="285.96" y="710.58" width="13.49" height="13.93" fill="#2eaae3"/>
<rect x="299.40" y="710.58" width="13.49" height="13.93" fill="#2eaae3"/>
<rect x="312.84" y="710.58" width="13.49" height="13.93" fill="#c70828"/>
<rect x="326.28" y="710.58" width="13.49" height="13.93" fill="#2eaae3"/>
<rect x="339.72" y="710.58" width="13.49" height="13.93" fill="#c70828"/>
<rect x="353.16" y="710.58" width="13.49" height="13.93" fill="#c70828"/>
<rect x="366.60" y="710.58" width="13.49" height="13.93" fill="#2eaae3"/>
<rect x="232.20" y="724.46" width="13.49" height="13.93" fill="#c70828"/>
<rect x="245.64" y="724.46" width="13.49" height="13.93" fill="#2eaae3"/>
<rect x="259.08" y="724.46" width="13.49" height="13.93" fill="#c70828"/>
<rect x="272.52" y="724.46" width="13.49" height="13.93" fill="#c70828"/>
<rect x="285.96" y="724.46" width="13.49" height="13.93" fill="#2eaae3"/>
<rect x="299.40" y="724.46" width="13.49" height="13.93" fill="#2eaae3"/>
<rect x="312.84" y="724.46" width="13.49" height="13.93" fill="#2eaae3"/>
<rect x="326.28" y="724.46" width="13.49" height="13.93" fill="#2eaae3"/>
<rect x="339.72" y="724.46" width="13.49" height="13.93" fill="#c70828"/>
<rect x="353.16" y="724.46" width="13.49" height="13.93" fill="#c70828"/>
<rect x="366.60" y="724.46" width="13.49" height="13.93" fill="#2eaae3"/>
<rect x="232.20" y="738.34" width="13.49" height="13.93" fill="#2eaae3"/>
<rect x="245.64" y="738.34" width="13.49" height="13.93" fill="#c70828"/>
<rect x="259.08" y="738.34" width="13.49" height="13.93" fill="#2eaae3"/>
<rect x="272.52" y="738.34" width="13.49" height="13.93" fill="#2eaae3"/>
<rect x="285.96" y="738.34" width="13.49" height="13.93" fill="#c70828"/>
<rect x="299.40" y="738.34" width="13.49" height="13.93" fill="#2eaae3"/>
<rect x="312.84" y="738.34" width="13.49" height="13.93" fill="#c70828"/>
<rect x="326.28" y="738.34" width="13.49" height="13.93" fill="#2eaae3"/>
<rect x="339.72" y="738.34" width="13.49" height="13.93" fill="#2eaae3"/>
<rect x="353.16" y="738.34" width="13.49" height="13.93" fill="#2eaae3"/>
<rect x="366.60" y="738.34" width="13.49" height="13.93" fill="#c70828"/>
<rect x="232.20" y="752.22" width="13.49" height="13.93" fill="#2eaae3"/>
<rect x="245.64" y="752.22" width="13.49" height="13.93" fill="#2eaae3"/>
<rect x="259.08" y="752.22" width="13.49" height="13.93" fill="#2eaae3"/>
<rect x="272.52" y="752.22" width="13.49" height="13.93" fill="#c70828"/>
<rect x="285.96" y="752.22" width="13.49" height="13.93" fill="#2eaae3"/>
<rect x="299.40" y="752.22" width="13.49" height="13.93" fill="#c70828"/>
<rect x="312.84" y="752.22" width="13.49" height="13.93" fill="#2eaae3"/>
<rect x="326.28" y="752.22" width="13.49" height="13.93" fill="#2eaae3"/>
<rect x="339.72" y="752.22" width="13.49" height="13.93" fill="#2eaae3"/>
<rect x="353.16" y="752.22" width="13.49" height="13.93" fill="#2eaae3"/>
<rect x="366.60" y="752.22" width="13.49" height="13.93" fill="#2eaae3"/>
<rect x="232.20" y="766.10" width="13.49" height="13.93" fill="#2eaae3"/>
<rect x="245.64" y="766.10" width="13.49" height="13.93" fill="#2eaae3"/>
<rect x="259.08" y="766.10" width="13.49" height="13.93" fill="#2eaae3"/>
<rect x="272.52" y="766.10" width="13.49" height="13.93" fill="#2eaae3"/>
<rect x="285.96" y="766.10" width="13.49" height="13.93" fill="#2eaae3"/>
<rect x="299.40" y="766.10" width="13.49" height="13.93" fill="#2eaae3"/>
<rect x="312.84" y="766.10" width="13.49" height="13.93" fill="#2eaae3"/>
<rect x="326.28" y="766.10" width="13.49" height="13.93" fill="#2eaae3"/>
<rect x="339.72" y="766.10" width="13.49" height="13.93" fill="#2eaae3"/>
<rect x="353.16" y="766.10" width="13.49" height="13.93" fill="#c70828"/>
<rect x="366.60" y="766.10" width="13.49" height="13.93" fill="#2eaae3"/>
<rect x="232.20" y="779.98" width="13.49" height="13.93" fill="#2eaae3"/>
<rect x="245.64" y="779.98" width="13.49" height="13.93" fill="#2eaae3"/>
<rect x="259.08" y="779.98" width="13.49" height="13.93" fill="#2eaae3"/>
<rect x="272.52" y="779.98" width="13.49" height="13.93" fill="#2eaae3"/>
<rect x="285.96" y="779.98" width="13.49" height="13.93" fill="#2eaae3"/>
<rect x="299.40" y="779.98" width="13.49" height="13.93" fill="#2eaae3"/>
<rect x="312.84" y="779.98" width="13.49" height="13.93" fill="#2eaae3"/>
<rect x="326.28" y="779.98" width="13.49" height="13.93" fill="#2eaae3"/>
<rect x="339.72" y="779.98" width="13.49" height="13.93" fill="#2eaae3"/>
<rect x="353.16" y="779.98" width="13.49" height="13.93" fill="#2eaae3"/>
<rect x="366.60" y="779.98" width="13.49" height="13.93" fill="#2eaae3"/>
<rect x="232.20" y="793.86" width="13.49" height="13.93" fill="#2eaae3"/>
<rect x="245.64" y="793.86" width="13.49" height="13.93" fill="#c70828"/>
<rect x="259.08" y="793.86" width="13.49" height="13.93" fill="#2eaae3"/>
<rect x="272.52" y="793.86" width="13.49" height="13.93" fill="#2eaae3"/>
<rect x="285.96" y="793.86" width="13.49" height="13.93" fill="#2eaae3"/>
<rect x="299.40" y="793.86" width="13.49" height="13.93" fill="#2eaae3"/>
<rect x="312.84" y="793.86" width="13.49" height="13.93" fill="#2eaae3"/>
<rect x="326.28" y="793.86" width="13.49" height="13.93" fill="#c70828"/>
<rect x="339.72" y="793.86" width="13.49" height="13.93" fill="#2eaae3"/>
<rect x="353.16" y="793.86" width="13.49" height="13.93" fill="#2eaae3"/>
<rect x="366.60" y="793.86" width="13.49" height="13.93" fill="#2eaae3"/>
<rect x="232.20" y="807.74" width="13.49" height="13.93" fill="#ffffff"/>
<rect x="245.64" y="807.74" width="13.49" height="13.93" fill="#ffffff"/>
<rect x="259.08" y="807.74" width="13.49" height="13.93" fill="#c70828"/>
<rect x="272.52" y="807.74" width="13.49" height="13.93" fill="#2eaae3"/>
<rect x="285.96" y="807.74" width="13.49" height="13.93" fill="#ffffff"/>
<rect x="299.40" y="807.74" width="13.49" height="13.93" fill="#2eaae3"/>
<rect x="312.84" y="807.74" width="13.49" height="13.93" fill="#2eaae3"/>
<rect x="326.28" y="807.74" width="13.49" height="13.93" fill="#2eaae3"/>
<rect x="339.72" y="807.74" width="13.49" height="13.93" fill="#ffffff"/>
<rect x="353.16" y="807.74" width="13.49" height="13.93" fill="#c70828"/>
<rect x="366.60" y="807.74" width="13.49" height="13.93" fill="#ffffff"/>
<rect x="232.20" y="821.62" width="13.49" height="13.93" fill="#ffffff"/>
<rect x="245.64" y="821.62" width="13.49" height="13.93" fill="#ffffff"/>
<rect x="259.08" y="821.62" width="13.49" height="13.93" fill="#2eaae3"/>
<rect x="272.52" y="821.62" width="13.49" height="13.93" fill="#ffffff"/>
<rect x="285.96" y="821.62" width="13.49" height="13.93" fill="#ffffff"/>
<rect x="299.40" y="821.62" width="13.49" height="13.93" fill="#c70828"/>
<rect x="312.84" y="821.62" width="13.49" height="13.93" fill="#2eaae3"/>
<rect x="326.28" y="821.62" width="13.49" height="13.93" fill="#2eaae3"/>
<rect x="339.72" y="821.62" width="13.49" height="13.93" fill="#ffffff"/>
<rect x="353.16" y="821.62" width="13.49" height="13.93" fill="#2eaae3"/>
<rect x="366.60" y="821.62" width="13.49" height="13.93" fill="#ffffff"/>
<g stroke="#121a2a" stroke-width="1.25">
<line x1="245.64" y1="627.30" x2="245.64" y2="835.50"/>
<line x1="259.08" y1="627.30" x2="259.08" y2="835.50"/>
<line x1="272.52" y1="627.30" x2="272.52" y2="835.50"/>
<line x1="285.96" y1="627.30" x2="285.96" y2="835.50"/>
<line x1="299.40" y1="627.30" x2="299.40" y2="835.50"/>
<line x1="312.84" y1="627.30" x2="312.84" y2="835.50"/>
<line x1="326.28" y1="627.30" x2="326.28" y2="835.50"/>
<line x1="339.72" y1="627.30" x2="339.72" y2="835.50"/>
<line x1="353.16" y1="627.30" x2="353.16" y2="835.50"/>
<line x1="366.60" y1="627.30" x2="366.60" y2="835.50"/>
<line x1="232.20" y1="641.18" x2="380.04" y2="641.18"/>
<line x1="232.20" y1="655.06" x2="380.04" y2="655.06"/>
<line x1="232.20" y1="668.94" x2="380.04" y2="668.94"/>
<line x1="232.20" y1="682.82" x2="380.04" y2="682.82"/>
<line x1="232.20" y1="696.70" x2="380.04" y2="696.70"/>
<line x1="232.20" y1="710.58" x2="380.04" y2="710.58"/>
<line x1="232.20" y1="724.46" x2="380.04" y2="724.46"/>
<line x1="232.20" y1="738.34" x2="380.04" y2="738.34"/>
<line x1="232.20" y1="752.22" x2="380.04" y2="752.22"/>
<line x1="232.20" y1="766.10" x2="380.04" y2="766.10"/>
<line x1="232.20" y1="779.98" x2="380.04" y2="779.98"/>
<line x1="232.20" y1="793.86" x2="380.04" y2="793.86"/>
<line x1="232.20" y1="807.74" x2="380.04" y2="807.74"/>
<line x1="232.20" y1="821.62" x2="380.04" y2="821.62"/>
<rect x="232.20" y="627.30" width="147.84" height="208.20" fill="none"/>
</g>
<g stroke="#111" stroke-width="1.4">
<line x1="238.92" y1="835.50" x2="238.92" y2="839.90"/>
<line x1="252.36" y1="835.50" x2="252.36" y2="839.90"/>
<line x1="265.80" y1="835.50" x2="265.80" y2="839.90"/>
<line x1="279.24" y1="835.50" x2="279.24" y2="839.90"/>
<line x1="292.68" y1="835.50" x2="292.68" y2="839.90"/>
<line x1="306.12" y1="835.50" x2="306.12" y2="839.90"/>
<line x1="319.56" y1="835.50" x2="319.56" y2="839.90"/>
<line x1="333.00" y1="835.50" x2="333.00" y2="839.90"/>
<line x1="346.44" y1="835.50" x2="346.44" y2="839.90"/>
<line x1="359.88" y1="835.50" x2="359.88" y2="839.90"/>
<line x1="373.32" y1="835.50" x2="373.32" y2="839.90"/>
</g>
<text transform="translate(243.02,845.2) rotate(-90)" font-size="11" text-anchor="end" fill="#1a1a1a">2</text>
<text transform="translate(256.46,845.2) rotate(-90)" font-size="11" text-anchor="end" fill="#1a1a1a">3</text>
<text transform="translate(269.90,845.2) rotate(-90)" font-size="11" text-anchor="end" fill="#1a1a1a">4</text>
<text transform="translate(283.34,845.2) rotate(-90)" font-size="11" text-anchor="end" fill="#1a1a1a">6</text>
<text transform="translate(296.78,845.2) rotate(-90)" font-size="11" text-anchor="end" fill="#1a1a1a">7</text>
<text transform="translate(310.22,845.2) rotate(-90)" font-size="11" text-anchor="end" fill="#1a1a1a">9</text>
<text transform="translate(323.66,845.2) rotate(-90)" font-size="11" text-anchor="end" fill="#1a1a1a">10</text>
<text transform="translate(337.10,845.2) rotate(-90)" font-size="11" text-anchor="end" fill="#1a1a1a">11</text>
<text transform="translate(350.54,845.2) rotate(-90)" font-size="11" text-anchor="end" fill="#1a1a1a">15</text>
<text transform="translate(363.98,845.2) rotate(-90)" font-size="11" text-anchor="end" fill="#1a1a1a">16</text>
<text transform="translate(377.42,845.2) rotate(-90)" font-size="11" text-anchor="end" fill="#1a1a1a">18</text>
<g stroke="#121a2a" stroke-width="1.25"><line x1="224" y1="627.30" x2="233" y2="627.30"/><line x1="224" y1="835.50" x2="233" y2="835.50"/></g>
<text x="125.5" y="638.00" font-size="11.2" text-anchor="end" fill="#1a1a1a">cBTKi R/R</text>
<text x="125.5" y="651.88" font-size="11.2" text-anchor="end" fill="#1a1a1a">IGHV</text>
<text x="125.5" y="665.76" font-size="11.2" text-anchor="end" fill="#1a1a1a">Complex Karyotype</text>
<text x="125.5" y="679.64" font-size="11.2" text-anchor="end" fill="#1a1a1a">T12</text>
<text x="125.5" y="693.52" font-size="11.2" text-anchor="end" fill="#1a1a1a">11q</text>
<text x="125.5" y="707.40" font-size="11.2" text-anchor="end" fill="#1a1a1a">13q</text>
<text x="125.5" y="721.28" font-size="11.2" text-anchor="end" fill="#1a1a1a">17p</text>
<text x="125.5" y="735.16" font-size="11.2" text-anchor="end" fill="#1a1a1a">TP53</text>
<text x="125.5" y="749.04" font-size="11.2" text-anchor="end" fill="#1a1a1a">XPO1</text>
<text x="125.5" y="762.92" font-size="11.2" text-anchor="end" fill="#1a1a1a">SF3B1</text>
<text x="125.5" y="776.80" font-size="11.2" text-anchor="end" fill="#1a1a1a">PLCG2</text>
<text x="125.5" y="790.68" font-size="11.2" text-anchor="end" fill="#1a1a1a">ATM</text>
<text x="125.5" y="804.56" font-size="11.2" text-anchor="end" fill="#1a1a1a">NOTCH1</text>
<text x="125.5" y="818.44" font-size="11.2" text-anchor="end" fill="#1a1a1a">KNMT2D</text>
<text x="125.5" y="832.32" font-size="11.2" text-anchor="end" fill="#1a1a1a">BCL2</text>
<text x="177.3" y="599.9" font-size="11.2" text-anchor="middle" fill="#1a1a1a">BTK WT</text>
<text x="160.69" y="614.00" font-size="11.2" fill="#1a1a1a">(n</text>
<rect x="173.45" y="608.89" width="7.3" height="0.81" fill="#1a1a1a"/>
<rect x="173.45" y="611.69" width="7.3" height="0.81" fill="#1a1a1a"/>
<text x="183.95" y="614.00" font-size="11.2" fill="#1a1a1a">7)</text>
<text x="306.2" y="599.9" font-size="11.2" text-anchor="middle" fill="#1a1a1a">BTK Mutant</text>
<text x="286.89" y="614.00" font-size="11.2" fill="#1a1a1a">(n</text>
<rect x="299.65" y="608.89" width="7.3" height="0.81" fill="#1a1a1a"/>
<rect x="299.65" y="611.69" width="7.3" height="0.81" fill="#1a1a1a"/>
<text x="310.15" y="614.00" font-size="11.2" fill="#1a1a1a">11)</text>
<g stroke="#222" stroke-width="1.3"><line x1="130.5" y1="621.3" x2="224" y2="621.3"/><line x1="232.5" y1="621.3" x2="379.5" y2="621.3"/></g>
<path d="M73.8 725.5 H56.5 V834.5 H73.8" fill="none" stroke="#111" stroke-width="1.3"/>
<text transform="translate(49.5,780) rotate(-90)" font-size="11.2" text-anchor="middle" fill="#1a1a1a">Mutations</text>
<rect x="388.5" y="709.20" width="11" height="11" fill="#c70828" stroke="#111" stroke-width="1"/>
<text x="404.2" y="718.60" font-size="10.6" fill="#1a1a1a">Mutated or present</text>
<rect x="388.5" y="725.70" width="11" height="11" fill="#2eaae3" stroke="#111" stroke-width="1"/>
<text x="404.2" y="735.10" font-size="10.6" fill="#1a1a1a">WT or absent</text>
<rect x="388.5" y="742.20" width="11" height="11" fill="#fff" stroke="#111" stroke-width="1"/>
<text x="404.2" y="751.60" font-size="10.6" fill="#1a1a1a">Not available</text>
</svg>
</body></html>
